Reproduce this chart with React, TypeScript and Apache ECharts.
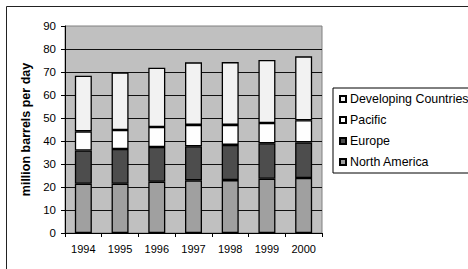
import React, { useEffect, useRef } from "react";
import * as echarts from "echarts";

const years = ["1994", "1995", "1996", "1997", "1998", "1999", "2000"];
const northAmerica = [21.4, 21.4, 22.3, 22.9, 23.0, 23.6, 23.9];
const europe = [14.5, 15.1, 15.1, 14.8, 15.3, 15.4, 15.5];
const pacific = [8.3, 8.3, 8.7, 9.3, 8.7, 8.8, 9.6];
const developing = [24.2, 25.0, 25.8, 27.2, 27.3, 27.4, 27.8];
const legendOrder = ["Developing Countries", "Pacific", "Europe", "North America"];

const FONT = "'Liberation Sans', Arial, sans-serif";

export default function App() {
  const ref = useRef<HTMLDivElement>(null);
  useEffect(() => {
    if (!ref.current) return;
    const chart = echarts.init(ref.current, undefined, { renderer: "svg" });
    const mk = (name: string, data: number[], color: string) => ({
      name,
      type: "bar",
      stack: "total",
      data,
      barWidth: 17,
      itemStyle: { color, borderColor: "#000", borderWidth: 1.3 },
    });
    chart.setOption({
      animation: false,
      backgroundColor: "#fff",
      textStyle: { fontFamily: FONT },
      graphic: [
        {
          type: "rect",
          shape: { x: 6.5, y: 6.5, width: 480, height: 280 },
          style: { fill: "none", stroke: "#222", lineWidth: 1 },
          silent: true,
        },
      ],
      grid: {
        left: 65,
        top: 26,
        width: 257,
        height: 207,
        show: true,
        backgroundColor: "#c0c0c0",
        borderColor: "#808080",
        borderWidth: 1,
      },
      legend: {
        data: legendOrder,
        orient: "vertical",
        left: 333,
        top: 88,
        width: 140,
        padding: [4, 10, 4, 6],
        borderColor: "#000",
        borderWidth: 1,
        itemWidth: 6,
        itemHeight: 6,
        itemGap: 7,
        icon: "rect",
        textStyle: { fontFamily: FONT, fontSize: 12.4, color: "#000", lineHeight: 14, padding: [0, 0, 0, -1] },
      },
      xAxis: {
        type: "category",
        data: years,
        axisLine: { lineStyle: { color: "#000", width: 1 } },
        axisTick: { show: true, length: 4, alignWithLabel: false, lineStyle: { color: "#000" } },
        axisLabel: { fontFamily: FONT, fontSize: 11, color: "#000", margin: 10 },
      },
      yAxis: {
        type: "value",
        min: 0,
        max: 90,
        interval: 10,
        name: "million barrels per day",
        nameLocation: "middle",
        nameGap: 32,
        nameTextStyle: { fontFamily: FONT, fontSize: 12.5, fontWeight: "bold", color: "#000" },
        axisLine: { show: true, lineStyle: { color: "#000", width: 1 } },
        axisTick: { show: true, length: 4, lineStyle: { color: "#000" } },
        axisLabel: { fontFamily: FONT, fontSize: 11.5, color: "#000", margin: 9 },
        splitLine: { show: true, showMinLine: false, showMaxLine: false, lineStyle: { color: "#111", width: 1 } },
      },
      series: [
        mk("North America", northAmerica, "#a0a0a0"),
        mk("Europe", europe, "#4d4d4d"),
        mk("Pacific", pacific, "#fefefe"),
        mk("Developing Countries", developing, "#f2f2f2"),
      ],
    });
    return () => chart.dispose();
  }, []);
  return (
    <div
      ref={ref}
      style={{ position: "fixed", left: 0, top: 0, width: 468, height: 269 }}
    />
  );
}
